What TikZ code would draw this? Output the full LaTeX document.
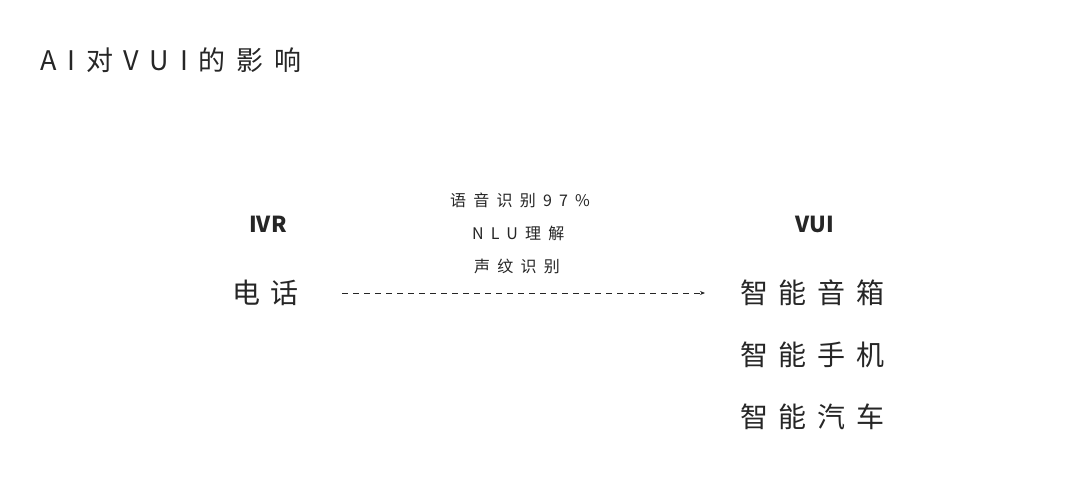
\documentclass[tikz,border=0pt]{standalone}
\usepackage{fontspec}
\setmainfont{Noto Sans CJK SC}
\usetikzlibrary{arrows.meta}
\tikzset{
  txt/.style={inner sep=0pt, text=black!85},
  big/.style={txt, font=\fontsize{28}{32}\selectfont\addfontfeatures{LetterSpace=38}},
  small/.style={txt, font=\fontsize{16}{20}\selectfont\addfontfeatures{LetterSpace=45}},
  head/.style={txt, font=\fontsize{22}{26}\selectfont\bfseries}
}
\begin{document}
\begin{tikzpicture}[x=1pt,y=-1pt]
  \useasboundingbox[fill=white] (0,0) rectangle (1080,482);
  \node[txt, anchor=west, font=\fontsize{27}{32}\selectfont\addfontfeatures{LetterSpace=40}] (title) at (40,60) {AI对VUI的影响};
  % left side
  \node[head] (ivr) at (268,224) {IVR};
  \node[big, anchor=west] (phone) at (232,293) {电话};
  % right side
  \node[head] (vui) at (815,224) {VUI};
  \node[big, anchor=west] (speaker) at (740,293) {智能音箱};
  \node[big, anchor=west] (mobile) at (740,355) {智能手机};
  \node[big, anchor=west] (car) at (740,417) {智能汽车};
  % what changed
  \node[small, anchor=west] (asr) at (450,200) {语音识别97\%};
  \node[small, anchor=west] (nlu) at (472,233) {NLU理解};
  \node[small, anchor=west] (voiceprint) at (474,266) {声纹识别};
  \draw[black!85, line width=1pt, dash pattern=on 6pt off 5pt, -{Stealth[length=5pt,width=4pt]},
    shorten <=43pt, shorten >=35pt] (phone.east) -- (speaker.west);
\end{tikzpicture}
\end{document}
